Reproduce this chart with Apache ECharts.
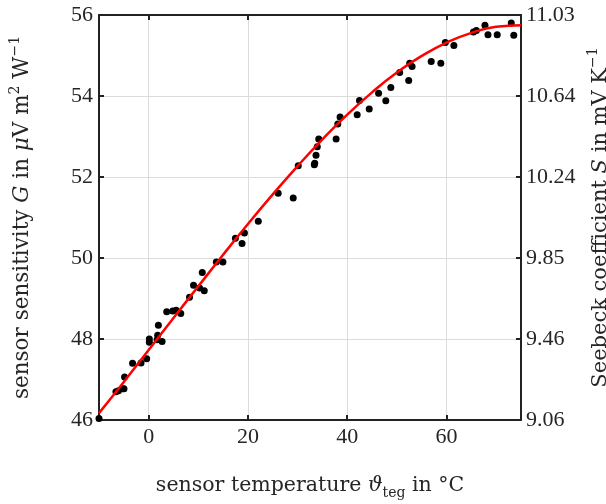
<!DOCTYPE html>
<html>
<head>
<meta charset="utf-8">
<script src="https://cdn.jsdelivr.net/npm/echarts@6/dist/echarts.min.js"></script>
<style>html,body{margin:0;padding:0;background:#fff;}#c{width:606px;height:504px;}</style>
</head>
<body>
<div id="c"></div>
<script>
// measured sensor temperature (°C)
const tempC = [-10.0,-6.59,-6.07,-5.26,-4.97,-4.85,-3.24,-1.54,-0.40,0.14,0.14,1.96,1.82,1.70,2.71,3.64,4.85,5.54,6.47,8.23,9.04,10.25,11.20,10.80,13.63,14.96,17.47,18.81,19.29,22.08,26.09,29.12,30.13,33.37,33.45,33.71,33.97,34.26,37.76,38.10,38.56,42.00,42.47,44.43,46.31,47.77,48.78,50.56,52.38,52.58,53.06,56.91,58.85,59.76,61.48,65.42,66.01,67.74,68.35,70.21,73.04,73.55];
// measured sensor sensitivity G
const sensG = [46.04,46.70,46.72,46.77,46.77,47.06,47.40,47.41,47.51,48.00,47.92,48.34,48.09,47.98,47.94,48.67,48.69,48.71,48.63,49.03,49.33,49.26,49.19,49.64,49.90,49.90,50.49,50.36,50.62,50.91,51.60,51.48,52.28,52.30,52.34,52.54,52.75,52.94,52.94,53.31,53.48,53.54,53.89,53.68,54.07,53.88,54.21,54.58,54.38,54.81,54.73,54.85,54.81,55.32,55.25,55.58,55.62,55.75,55.51,55.51,55.80,55.50];
// fit curve
const fitT = [-10,-5,0,5,10,15,20,25,30,35,40,45,50,55,60,65,70,75];
const fitG = [46.17,46.94,47.73,48.52,49.30,50.08,50.84,51.57,52.27,52.93,53.54,54.09,54.58,54.99,55.32,55.56,55.71,55.75];
// ticks
const xTicks = [0,20,40,60];
const leftTicks = [46,48,50,52,54,56];
const rightTickLabels = ['9.06','9.46','9.85','10.24','10.64','11.03'];

const FONT = 'Liberation Serif';
const NFONT = 'DejaVu Serif';
const TXT = '#262626';
const AX = '#222';
function richFor(size) {
  return {
    n: {fontFamily: NFONT, fontSize: size, color: TXT, lineHeight: 28},
    i: {fontFamily: NFONT, fontSize: size, fontStyle: 'italic', color: TXT, lineHeight: 28},
    sub: {fontFamily: NFONT, fontSize: 14, color: TXT, lineHeight: 19, verticalAlign: 'bottom'},
    sup: {fontFamily: NFONT, fontSize: 14, color: TXT, lineHeight: 15, verticalAlign: 'top'}
  };
}

const chart = echarts.init(document.getElementById('c'), null, {renderer: 'canvas'});
const scatterData = tempC.map((t, k) => [t, sensG[k]]);
const fitData = fitT.map((t, k) => [t, fitG[k]]);

const tickStyle = {show: true, inside: true, length: 5, lineStyle: {color: AX, width: 2}};

chart.setOption({
  animation: false,
  backgroundColor: '#fff',
  grid: {left: 99, right: 85, top: 15, bottom: 84, containLabel: false, outerBoundsMode: 'none'},
  xAxis: [{
    type: 'value', position: 'bottom', min: -10, max: 75,
    axisLine: {show: true, onZero: false, lineStyle: {color: AX, width: 2}},
    axisTick: Object.assign({customValues: xTicks}, tickStyle),
    axisLabel: {customValues: xTicks, fontFamily: FONT, fontSize: 22, color: TXT, margin: 6},
    splitLine: {show: true, lineStyle: {color: '#dcdcdc', width: 1}},
    name: '{n|sensor temperature }{i|ϑ}{sub|teg}{n| in °C}',
    nameLocation: 'middle', nameGap: 52,
    nameTextStyle: {rich: richFor(20.5)}
  }, {
    type: 'value', position: 'top', min: -10, max: 75,
    axisLine: {show: true, onZero: false, lineStyle: {color: AX, width: 2}},
    axisTick: Object.assign({customValues: xTicks}, tickStyle),
    axisLabel: {show: false},
    splitLine: {show: false}
  }],
  yAxis: [{
    type: 'value', position: 'left', min: 46, max: 56, interval: 2,
    axisLine: {show: true, onZero: false, lineStyle: {color: AX, width: 2}},
    axisTick: tickStyle,
    axisLabel: {fontFamily: FONT, fontSize: 22, color: TXT, margin: 6},
    splitLine: {show: true, lineStyle: {color: '#dcdcdc', width: 1}},
    name: '{n|sensor sensitivity }{i|G}{n| in }{i|μ}{n|V m}{sup|2}{n| W}{sup|−1}',
    nameLocation: 'middle', nameGap: 63, nameRotate: 90,
    nameTextStyle: {rich: richFor(21.5)}
  }, {
    type: 'value', position: 'right', min: 46, max: 56, interval: 2,
    axisLine: {show: true, onZero: false, lineStyle: {color: AX, width: 2}},
    axisTick: tickStyle,
    axisLabel: {fontFamily: FONT, fontSize: 22, color: TXT, margin: 5,
      formatter: v => { const k = leftTicks.indexOf(Math.round(v)); return k >= 0 ? rightTickLabels[k] : ''; }},
    splitLine: {show: false},
    name: '{n|Seebeck coefficient }{i|S}{n| in mV K}{sup|−1}',
    nameLocation: 'middle', nameGap: 62, nameRotate: 90,
    nameTextStyle: {rich: richFor(21)}
  }],
  series: [{
    type: 'scatter', xAxisIndex: 0, yAxisIndex: 0,
    data: scatterData, symbol: 'circle', symbolSize: 7,
    itemStyle: {color: '#000', opacity: 1}, clip: false, z: 3
  }, {
    type: 'line', xAxisIndex: 0, yAxisIndex: 0,
    data: fitData, smooth: true, showSymbol: false, symbol: 'none',
    lineStyle: {color: '#ff0000', width: 2.5}, z: 4
  }]
});
</script>
</body>
</html>
